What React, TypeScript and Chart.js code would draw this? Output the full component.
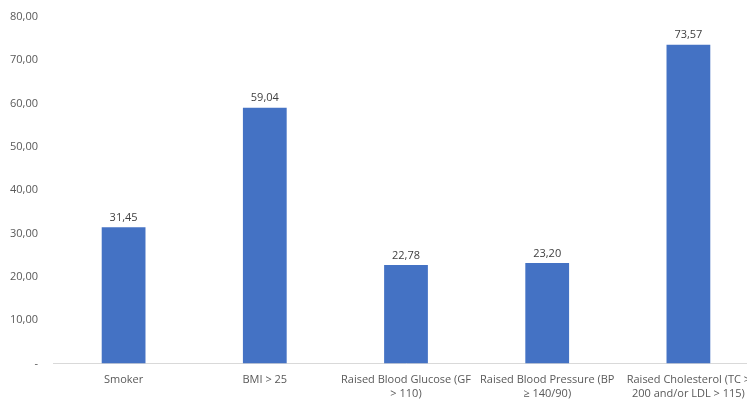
import React, { useEffect, useRef } from "react";
import { Chart, registerables } from "chart.js";

Chart.register(...registerables);

const categories: string[][] = [
  ["Smoker"],
  ["BMI > 25"],
  ["Raised Blood Glucose (GF", "> 110)"],
  ["Raised Blood Pressure (BP", "≥ 140/90)"],
  ["Raised Cholesterol (TC >", "200 and/or LDL > 115)"],
];
const values: number[] = [31.45, 59.04, 22.78, 23.2, 73.57];
const yMin = 0;
const yMax = 80;
const yStep = 10;

const FONT = "'Open Sans', 'Liberation Sans', sans-serif";
const fmt = (v: number) => (v === 0 ? "-" : v.toFixed(2).replace(".", ","));

const valueLabels = {
  id: "valueLabels",
  afterDatasetsDraw(chart: any) {
    const ctx = chart.ctx;
    const meta = chart.getDatasetMeta(0);
    ctx.save();
    ctx.font = `11px ${FONT}`;
    ctx.fillStyle = "#404040";
    ctx.textAlign = "center";
    ctx.textBaseline = "bottom";
    meta.data.forEach((bar: any, i: number) => {
      ctx.fillText(fmt(values[i]), bar.x, bar.y - 4);
    });
    ctx.restore();
  },
};

export default function App() {
  const ref = useRef<HTMLCanvasElement>(null);
  useEffect(() => {
    if (!ref.current) return;
    const chart = new Chart(ref.current, {
      type: "bar",
      data: {
        labels: categories,
        datasets: [
          {
            data: values,
            backgroundColor: "#4472C4",
            borderWidth: 0,
            categoryPercentage: 1,
            barPercentage: 0.31,
          },
        ],
      },
      options: {
        responsive: false,
        animation: false,
        layout: { padding: { top: 17, right: 41, bottom: 0, left: 0 } },
        plugins: {
          legend: { display: false },
          tooltip: { enabled: false },
        },
        scales: {
          x: {
            grid: { display: false, drawTicks: false },
            border: { display: true, color: "#D9D9D9", width: 1 },
            ticks: {
              color: "#595959",
              font: { family: FONT, size: 11 },
              padding: 10,
              maxRotation: 0,
              autoSkip: false,
            },
          },
          y: {
            min: yMin,
            max: yMax,
            grid: { display: false, drawTicks: false },
            border: { display: false },
            ticks: {
              stepSize: yStep,
              color: "#595959",
              font: { family: FONT, size: 11 },
              padding: 15,
              callback: (v: any) => fmt(Number(v)),
            },
            afterFit: (scale: any) => {
              scale.width = 53;
              scale.paddingTop = 0;
              scale.paddingBottom = 0;
            },
          },
        },
      },
      plugins: [valueLabels],
    });
    return () => chart.destroy();
  }, []);
  return (
    <div
      style={{
        position: "fixed",
        left: 0,
        top: 0,
        width: 747,
        height: 401,
        overflow: "hidden",
        background: "#fff",
      }}
    >
      <canvas ref={ref} width={800} height={410} style={{ display: "block" }} />
    </div>
  );
}
